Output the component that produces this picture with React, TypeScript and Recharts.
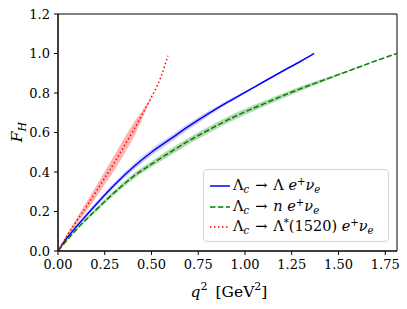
import React from "react";
import { ComposedChart, Area, Line, XAxis, YAxis, ReferenceArea } from "recharts";

// Lambda_c -> Lambda e+ nu_e
const lambdaQ = [0, 0.05, 0.1, 0.2, 0.3, 0.4, 0.5, 0.6, 0.7, 0.8, 0.9, 1.0, 1.1, 1.2, 1.3, 1.3697];
const lambdaF = [0, 0.068, 0.125, 0.232, 0.333, 0.423, 0.5, 0.566, 0.632, 0.693, 0.75, 0.803, 0.857, 0.91, 0.962, 1.0];
const lambdaErr = [0, 0.004, 0.008, 0.012, 0.014, 0.015, 0.016, 0.016, 0.015, 0.013, 0.01, 0.007, 0.003, 0, 0, 0];

// Lambda_c -> n e+ nu_e
const neutronQ = [0, 0.1, 0.2, 0.3, 0.4, 0.5, 0.6, 0.7, 0.8, 0.9, 1.0, 1.1, 1.2, 1.3, 1.4, 1.5, 1.6, 1.7, 1.813];
const neutronF = [0, 0.11, 0.205, 0.295, 0.375, 0.44, 0.5, 0.558, 0.61, 0.66, 0.705, 0.745, 0.785, 0.823, 0.858, 0.893, 0.928, 0.963, 1.0];
const neutronErr = [0, 0.005, 0.009, 0.012, 0.014, 0.015, 0.016, 0.016, 0.016, 0.016, 0.015, 0.014, 0.013, 0.011, 0.009, 0.006, 0.003, 0.001, 0];

// Lambda_c -> Lambda*(1520) e+ nu_e
const starQ = [0, 0.05, 0.1, 0.15, 0.2, 0.25, 0.3, 0.35, 0.4, 0.45, 0.5, 0.55, 0.5876];
const starF = [0, 0.08, 0.152, 0.222, 0.295, 0.37, 0.445, 0.525, 0.605, 0.69, 0.78, 0.88, 0.99];
const starErr = [0, 0.008, 0.015, 0.022, 0.028, 0.033, 0.037, 0.04, 0.037, 0.02, 0.003, 0, 0];

const xTicks = [0, 0.25, 0.5, 0.75, 1.0, 1.25, 1.5, 1.75];
const yTicks = [0, 0.2, 0.4, 0.6, 0.8, 1.0, 1.2];

const rows = (q: number[], f: number[], e: number[]) =>
  q.map((x, i) => ({ q: x, f: f[i], band: [f[i] - e[i], f[i] + e[i]] }));

const lambdaRows = rows(lambdaQ, lambdaF, lambdaErr);
const neutronRows = rows(neutronQ, neutronF, neutronErr);
const starRows = rows(starQ, starF, starErr);

const FONT = "'DejaVu Serif', 'Liberation Serif', serif";
const tickStyle = { fill: "#000", fontSize: 13, fontFamily: FONT };

const sub = { fontSize: "70%", verticalAlign: "-0.3em" } as const;
const sup = { fontSize: "70%", verticalAlign: "0.5em" } as const;

function Arrow() {
  return <span style={{ margin: "0 6px" }}>→</span>;
}

function LegendRow({ color, dash, children }: { color: string; dash?: string; children: React.ReactNode }) {
  return (
    <div style={{ display: "flex", alignItems: "center", height: 20.5 }}>
      <svg width={21} height={10} style={{ marginLeft: 6, marginRight: 2 }}>
        <line x1={0} y1={5} x2={20} y2={5} stroke={color} strokeWidth={1.5} strokeDasharray={dash} />
      </svg>
      <span style={{ whiteSpace: "nowrap" }}>{children}</span>
    </div>
  );
}

export default function App() {
  return (
    <div style={{ position: "absolute", left: 0, top: 0, width: 407, height: 309, fontFamily: FONT, background: "#fff" }}>
      <ComposedChart width={407} height={309} margin={{ top: 14, right: 10, bottom: 0, left: 0 }}>
        <XAxis
          dataKey="q"
          type="number"
          domain={[0, 1.813]}
          allowDataOverflow
          ticks={xTicks}
          tickFormatter={(v: number) => v.toFixed(2)}
          tick={tickStyle}
          tickSize={4}
          tickMargin={5}
          height={58}
          stroke="#000"
          label={{
            content: () => (
              <text x={229} y={297} textAnchor="middle" fontSize={15.5} fontFamily={FONT} fill="#000">
                <tspan fontStyle="italic">q</tspan>
                <tspan dy={-7} fontSize={11}>2</tspan>
                <tspan dy={7} dx={8}>[GeV</tspan>
                <tspan dy={-7} fontSize={11}>2</tspan>
                <tspan dy={7}>]</tspan>
              </text>
            ),
          }}
        />
        <YAxis
          type="number"
          domain={[0, 1.2]}
          ticks={yTicks}
          tickFormatter={(v: number) => v.toFixed(1)}
          tick={tickStyle}
          tickSize={4}
          tickMargin={4}
          width={58}
          stroke="#000"
          label={{
            content: () => (
              <text transform="translate(22,132) rotate(-90)" textAnchor="middle" fontSize={15.5} fontFamily={FONT} fill="#000">
                <tspan fontStyle="italic">F</tspan>
                <tspan dy={4} fontSize={11} fontStyle="italic">H</tspan>
              </text>
            ),
          }}
        />

        <Area data={lambdaRows} dataKey="band" type="monotone" stroke="none" fill="#0000ff" fillOpacity={0.2} isAnimationActive={false} />
        <Area data={neutronRows} dataKey="band" type="monotone" stroke="none" fill="#008000" fillOpacity={0.3} isAnimationActive={false} />
        <Area data={starRows} dataKey="band" type="monotone" stroke="none" fill="#ff0000" fillOpacity={0.3} isAnimationActive={false} />

        <Line data={lambdaRows} dataKey="f" type="monotone" stroke="#0000ff" strokeWidth={1.5} dot={false} activeDot={false} isAnimationActive={false} />
        <Line data={neutronRows} dataKey="f" type="monotone" stroke="#008000" strokeWidth={1.5} strokeDasharray="5.5 2.4" dot={false} activeDot={false} isAnimationActive={false} />
        <Line data={starRows} dataKey="f" type="monotone" stroke="#ff0000" strokeWidth={1.5} strokeDasharray="1.5 2.5" dot={false} activeDot={false} isAnimationActive={false} />

        <ReferenceArea x1={0} x2={1.813} y1={0} y2={1.2} fill="none" stroke="#000" strokeWidth={1} ifOverflow="visible" />
      </ComposedChart>

      <div
        style={{
          position: "absolute",
          left: 203,
          top: 169,
          width: 186,
          height: 73,
          paddingTop: 6,
          border: "1px solid #d4d4d4",
          borderRadius: 4,
          background: "rgba(255,255,255,0.8)",
          fontSize: 14.5,
          lineHeight: 1,
          boxSizing: "border-box",
        }}
      >
        <LegendRow color="#0000ff">
          Λ<span style={sub}><i>c</i></span>
          <Arrow />Λ&nbsp;<i>e</i><span style={sup}>+</span><i>ν</i><span style={sub}><i>e</i></span>
        </LegendRow>
        <LegendRow color="#008000" dash="5.5 2.4">
          Λ<span style={sub}><i>c</i></span>
          <Arrow /><i>n</i>&nbsp;<i>e</i><span style={sup}>+</span><i>ν</i><span style={sub}><i>e</i></span>
        </LegendRow>
        <LegendRow color="#ff0000" dash="1.5 2.5">
          Λ<span style={sub}><i>c</i></span>
          <Arrow />Λ<span style={sup}>*</span>(1520)&nbsp;<i>e</i><span style={sup}>+</span><i>ν</i><span style={sub}><i>e</i></span>
        </LegendRow>
      </div>
    </div>
  );
}
